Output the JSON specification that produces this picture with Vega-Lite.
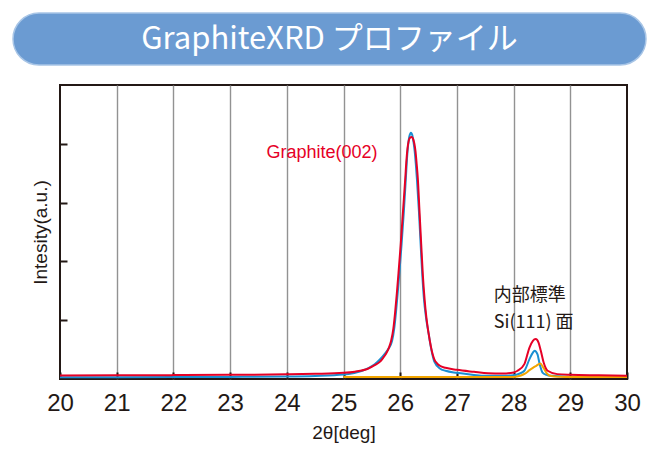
{
  "$schema": "https://vega.github.io/schema/vega-lite/v6.json",
  "background": "white",
  "padding": {"left": 12, "right": 5, "top": 12, "bottom": 0},
  "spacing": 18,
  "config": {"view": {"stroke": null}, "font": "Liberation Sans"},
  "datasets": {
    "title": [{"t": "GraphiteXRD プロファイル"}],
    "notes": [
      {"deg": 24.62, "intensity": 3.84, "label": "Graphite(002)", "kind": "peak"},
      {"deg": 27.65, "intensity": 1.41, "label": "内部標準", "kind": "std"},
      {"deg": 27.65, "intensity": 0.95, "label": "Si(111) 面", "kind": "std"}
    ],
    "xrd": [
      {"series": "measured", "deg": 20.0, "intensity": 0.030},
      {"series": "measured", "deg": 21.0, "intensity": 0.031},
      {"series": "measured", "deg": 22.0, "intensity": 0.033},
      {"series": "measured", "deg": 23.0, "intensity": 0.036},
      {"series": "measured", "deg": 24.0, "intensity": 0.042},
      {"series": "measured", "deg": 24.5, "intensity": 0.052},
      {"series": "measured", "deg": 25.0, "intensity": 0.075},
      {"series": "measured", "deg": 25.19, "intensity": 0.100},
      {"series": "measured", "deg": 25.43, "intensity": 0.180},
      {"series": "measured", "deg": 25.55, "intensity": 0.250},
      {"series": "measured", "deg": 25.65, "intensity": 0.340},
      {"series": "measured", "deg": 25.72, "intensity": 0.420},
      {"series": "measured", "deg": 25.79, "intensity": 0.510},
      {"series": "measured", "deg": 25.855, "intensity": 0.640},
      {"series": "measured", "deg": 25.895, "intensity": 0.860},
      {"series": "measured", "deg": 25.925, "intensity": 1.130},
      {"series": "measured", "deg": 25.955, "intensity": 1.450},
      {"series": "measured", "deg": 25.985, "intensity": 1.800},
      {"series": "measured", "deg": 26.025, "intensity": 2.300},
      {"series": "measured", "deg": 26.065, "intensity": 2.860},
      {"series": "measured", "deg": 26.10, "intensity": 3.420},
      {"series": "measured", "deg": 26.12, "intensity": 3.750},
      {"series": "measured", "deg": 26.14, "intensity": 3.980},
      {"series": "measured", "deg": 26.16, "intensity": 4.120},
      {"series": "measured", "deg": 26.19, "intensity": 4.187},
      {"series": "measured", "deg": 26.215, "intensity": 4.140},
      {"series": "measured", "deg": 26.235, "intensity": 4.030},
      {"series": "measured", "deg": 26.255, "intensity": 3.880},
      {"series": "measured", "deg": 26.275, "intensity": 3.660},
      {"series": "measured", "deg": 26.295, "intensity": 3.400},
      {"series": "measured", "deg": 26.33, "intensity": 2.860},
      {"series": "measured", "deg": 26.36, "intensity": 2.300},
      {"series": "measured", "deg": 26.39, "intensity": 1.760},
      {"series": "measured", "deg": 26.42, "intensity": 1.350},
      {"series": "measured", "deg": 26.455, "intensity": 1.050},
      {"series": "measured", "deg": 26.50, "intensity": 0.780},
      {"series": "measured", "deg": 26.545, "intensity": 0.520},
      {"series": "measured", "deg": 26.60, "intensity": 0.300},
      {"series": "measured", "deg": 26.70, "intensity": 0.180},
      {"series": "measured", "deg": 26.80, "intensity": 0.140},
      {"series": "measured", "deg": 27.0, "intensity": 0.105},
      {"series": "measured", "deg": 27.3, "intensity": 0.070},
      {"series": "measured", "deg": 27.5, "intensity": 0.055},
      {"series": "measured", "deg": 27.8, "intensity": 0.055},
      {"series": "measured", "deg": 28.0, "intensity": 0.065},
      {"series": "measured", "deg": 28.1, "intensity": 0.090},
      {"series": "measured", "deg": 28.19, "intensity": 0.140},
      {"series": "measured", "deg": 28.28, "intensity": 0.338},
      {"series": "measured", "deg": 28.34, "intensity": 0.450},
      {"series": "measured", "deg": 28.37, "intensity": 0.479},
      {"series": "measured", "deg": 28.42, "intensity": 0.423},
      {"series": "measured", "deg": 28.46, "intensity": 0.253},
      {"series": "measured", "deg": 28.51, "intensity": 0.110},
      {"series": "measured", "deg": 28.58, "intensity": 0.070},
      {"series": "measured", "deg": 28.66, "intensity": 0.054},
      {"series": "measured", "deg": 29.0, "intensity": 0.040},
      {"series": "measured", "deg": 29.5, "intensity": 0.036},
      {"series": "measured", "deg": 30.0, "intensity": 0.034},

      {"series": "Si", "deg": 25.0, "intensity": 0.035},
      {"series": "Si", "deg": 26.0, "intensity": 0.035},
      {"series": "Si", "deg": 27.0, "intensity": 0.035},
      {"series": "Si", "deg": 28.0, "intensity": 0.036},
      {"series": "Si", "deg": 28.13, "intensity": 0.060},
      {"series": "Si", "deg": 28.2, "intensity": 0.090},
      {"series": "Si", "deg": 28.28, "intensity": 0.150},
      {"series": "Si", "deg": 28.34, "intensity": 0.190},
      {"series": "Si", "deg": 28.40, "intensity": 0.224},
      {"series": "Si", "deg": 28.47, "intensity": 0.263},
      {"series": "Si", "deg": 28.53, "intensity": 0.185},
      {"series": "Si", "deg": 28.59, "intensity": 0.093},
      {"series": "Si", "deg": 28.66, "intensity": 0.050},
      {"series": "Si", "deg": 28.8, "intensity": 0.038},
      {"series": "Si", "deg": 29.0, "intensity": 0.035},
      {"series": "Si", "deg": 30.0, "intensity": 0.035},

      {"series": "fit", "deg": 20.0, "intensity": 0.060},
      {"series": "fit", "deg": 21.0, "intensity": 0.062},
      {"series": "fit", "deg": 22.0, "intensity": 0.066},
      {"series": "fit", "deg": 23.0, "intensity": 0.071},
      {"series": "fit", "deg": 24.0, "intensity": 0.079},
      {"series": "fit", "deg": 24.5, "intensity": 0.088},
      {"series": "fit", "deg": 25.0, "intensity": 0.105},
      {"series": "fit", "deg": 25.2, "intensity": 0.125},
      {"series": "fit", "deg": 25.43, "intensity": 0.175},
      {"series": "fit", "deg": 25.55, "intensity": 0.235},
      {"series": "fit", "deg": 25.65, "intensity": 0.300},
      {"series": "fit", "deg": 25.70, "intensity": 0.360},
      {"series": "fit", "deg": 25.75, "intensity": 0.430},
      {"series": "fit", "deg": 25.80, "intensity": 0.530},
      {"series": "fit", "deg": 25.84, "intensity": 0.650},
      {"series": "fit", "deg": 25.88, "intensity": 0.860},
      {"series": "fit", "deg": 25.91, "intensity": 1.130},
      {"series": "fit", "deg": 25.94, "intensity": 1.450},
      {"series": "fit", "deg": 25.97, "intensity": 1.800},
      {"series": "fit", "deg": 26.01, "intensity": 2.300},
      {"series": "fit", "deg": 26.05, "intensity": 2.860},
      {"series": "fit", "deg": 26.09, "intensity": 3.420},
      {"series": "fit", "deg": 26.11, "intensity": 3.720},
      {"series": "fit", "deg": 26.13, "intensity": 3.930},
      {"series": "fit", "deg": 26.15, "intensity": 4.050},
      {"series": "fit", "deg": 26.175, "intensity": 4.105},
      {"series": "fit", "deg": 26.20, "intensity": 4.114},
      {"series": "fit", "deg": 26.225, "intensity": 4.090},
      {"series": "fit", "deg": 26.25, "intensity": 4.000},
      {"series": "fit", "deg": 26.27, "intensity": 3.870},
      {"series": "fit", "deg": 26.29, "intensity": 3.660},
      {"series": "fit", "deg": 26.31, "intensity": 3.420},
      {"series": "fit", "deg": 26.34, "intensity": 2.860},
      {"series": "fit", "deg": 26.37, "intensity": 2.300},
      {"series": "fit", "deg": 26.40, "intensity": 1.760},
      {"series": "fit", "deg": 26.43, "intensity": 1.360},
      {"series": "fit", "deg": 26.46, "intensity": 1.060},
      {"series": "fit", "deg": 26.50, "intensity": 0.780},
      {"series": "fit", "deg": 26.54, "intensity": 0.560},
      {"series": "fit", "deg": 26.57, "intensity": 0.430},
      {"series": "fit", "deg": 26.60, "intensity": 0.340},
      {"series": "fit", "deg": 26.65, "intensity": 0.265},
      {"series": "fit", "deg": 26.70, "intensity": 0.225},
      {"series": "fit", "deg": 26.80, "intensity": 0.190},
      {"series": "fit", "deg": 27.0, "intensity": 0.156},
      {"series": "fit", "deg": 27.3, "intensity": 0.122},
      {"series": "fit", "deg": 27.55, "intensity": 0.097},
      {"series": "fit", "deg": 27.8, "intensity": 0.092},
      {"series": "fit", "deg": 28.0, "intensity": 0.112},
      {"series": "fit", "deg": 28.07, "intensity": 0.140},
      {"series": "fit", "deg": 28.19, "intensity": 0.253},
      {"series": "fit", "deg": 28.28, "intensity": 0.535},
      {"series": "fit", "deg": 28.34, "intensity": 0.649},
      {"series": "fit", "deg": 28.39, "intensity": 0.679},
      {"series": "fit", "deg": 28.44, "intensity": 0.620},
      {"series": "fit", "deg": 28.48, "intensity": 0.479},
      {"series": "fit", "deg": 28.53, "intensity": 0.280},
      {"series": "fit", "deg": 28.60, "intensity": 0.140},
      {"series": "fit", "deg": 28.77, "intensity": 0.083},
      {"series": "fit", "deg": 29.0, "intensity": 0.071},
      {"series": "fit", "deg": 29.5, "intensity": 0.062},
      {"series": "fit", "deg": 30.0, "intensity": 0.054}
    ]
  },
  "vconcat": [
    {
      "width": 633,
      "height": 52,
      "view": {"stroke": null},
      "data": {"name": "title"},
      "layer": [
        {"mark": {"type": "rect", "cornerRadius": 26, "fill": "#6b9bd2", "stroke": "#a8c5e6", "strokeWidth": 1.5}, "encoding": {}},
        {"mark": {"type": "text", "color": "white", "fontSize": 31, "font": "Noto Sans CJK JP", "align": "center", "baseline": "middle", "dy": 1}, "encoding": {"text": {"field": "t"}}}
      ]
    },
    {
      "hconcat": [
        {
          "width": 47,
          "height": 294,
          "view": {"stroke": null},
          "data": {"values": [{}]},
          "mark": {"type": "rect", "opacity": 0},
          "encoding": {}
        },
        {
          "width": 567,
          "height": 294,
          "view": {"stroke": "#231815", "strokeWidth": 2},
          "encoding": {
            "x": {
              "field": "deg", "type": "quantitative",
              "scale": {"domain": [20, 30], "nice": false, "zero": false},
              "axis": {
                "title": "2θ[deg]", "titleFontSize": 19, "titleFontWeight": "normal", "titleColor": "#231815", "titlePadding": 8,
                "values": [20, 21, 22, 23, 24, 25, 26, 27, 28, 29, 30],
                "labelFontSize": 24, "labelColor": "#231815", "labelPadding": 19, "labelFlush": false,
                "tickSize": -7, "tickWidth": 2, "tickColor": "#231815",
                "domain": false,
                "grid": true, "gridColor": "#929292", "gridWidth": 1.4,
                "gridOpacity": {"condition": {"test": "datum.value == 20 || datum.value == 30", "value": 0}, "value": 1}
              }
            },
            "y": {
              "field": "intensity", "type": "quantitative",
              "scale": {"domain": [0, 5], "nice": false},
              "axis": {
                "title": "Intesity(a.u.)", "titleFontSize": 19, "titleFontWeight": "normal", "titleColor": "#231815", "titlePadding": 9,
                "values": [1, 2, 3, 4], "labels": false,
                "tickSize": -7, "tickWidth": 2, "tickColor": "#231815",
                "domain": false, "grid": false
              }
            }
          },
          "layer": [
            {
              "data": {"name": "xrd"},
              "transform": [{"filter": "datum.series == 'measured'"}],
              "mark": {"type": "line", "interpolate": "monotone", "strokeWidth": 2},
              "encoding": {"color": {"field": "series", "type": "nominal", "scale": {"domain": ["measured", "Si", "fit"], "range": ["#1a8fd2", "#f2a500", "#e60026"]}, "legend": null}}
            },
            {
              "data": {"name": "xrd"},
              "transform": [{"filter": "datum.series == 'Si'"}],
              "mark": {"type": "line", "interpolate": "monotone", "strokeWidth": 2},
              "encoding": {"color": {"field": "series", "type": "nominal", "legend": null}}
            },
            {
              "data": {"name": "xrd"},
              "transform": [{"filter": "datum.series == 'fit'"}],
              "mark": {"type": "line", "interpolate": "monotone", "strokeWidth": 2},
              "encoding": {"color": {"field": "series", "type": "nominal", "legend": null}}
            },
            {
              "data": {"name": "notes"},
              "transform": [{"filter": "datum.kind == 'peak'"}],
              "mark": {"type": "text", "fontSize": 18, "font": "Liberation Sans", "color": "#e60026", "align": "center", "baseline": "middle"},
              "encoding": {"text": {"field": "label"}}
            },
            {
              "data": {"name": "notes"},
              "transform": [{"filter": "datum.kind == 'std'"}],
              "mark": {"type": "text", "fontSize": 18, "font": "Noto Sans CJK JP", "color": "#231815", "align": "left", "baseline": "middle"},
              "encoding": {"text": {"field": "label"}}
            }
          ]
        }
      ],
      "spacing": 0,
      "bounds": "flush"
    }
  ]
}
